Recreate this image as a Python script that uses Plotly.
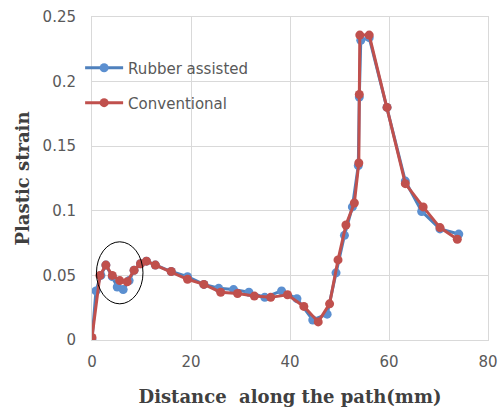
import plotly.graph_objects as go

# Rubber assisted series
rubber_x = [0, 0.8, 1.8, 2.8, 4.1, 5.1, 6.3, 7.5, 8.5, 9.8, 11.0, 12.8, 16.0, 19.3, 22.6,
            25.6, 28.6, 31.7, 34.9, 38.3, 41.4, 44.6, 47.5, 49.3, 51.0, 52.6, 53.8, 54.0,
            54.3, 56.0, 59.6, 63.3, 66.6, 70.3, 74.1]
rubber_y = [0.0, 0.038, 0.050, 0.058, 0.049, 0.041, 0.039, 0.046, 0.054, 0.059, 0.061, 0.058,
            0.053, 0.049, 0.043, 0.040, 0.039, 0.037, 0.033, 0.038, 0.032, 0.0155, 0.020,
            0.052, 0.081, 0.103, 0.135, 0.188, 0.232, 0.234, 0.180, 0.123, 0.0995, 0.086, 0.082]

# Conventional series
conv_x = [0, 1.6, 2.8, 4.1, 5.6, 7.1, 8.5, 9.8, 11.0, 12.8, 16.0, 19.3, 22.6, 26.0, 29.4,
          32.8, 36.1, 39.5, 42.8, 45.7, 48.0, 49.7, 51.3, 53.0, 53.9, 54.0, 54.1, 56.0,
          59.6, 63.3, 66.9, 70.3, 73.8]
conv_y = [0.002, 0.050, 0.058, 0.050, 0.046, 0.045, 0.054, 0.059, 0.061, 0.058, 0.053, 0.047,
          0.043, 0.037, 0.036, 0.034, 0.033, 0.035, 0.026, 0.014, 0.028, 0.062, 0.089, 0.106,
          0.137, 0.190, 0.236, 0.236, 0.180, 0.121, 0.103, 0.087, 0.078]

x_ticks = [0, 20, 40, 60, 80]
y_ticks = [0, 0.05, 0.1, 0.15, 0.2, 0.25]
y_tick_text = ["0", "0.05", "0.1", "0.15", "0.2", "0.25"]

BLUE = "#4f81bd"
RED = "#c0504d"

fig = go.Figure()
fig.add_trace(go.Scatter(x=rubber_x, y=rubber_y, mode="lines+markers", name="Rubber assisted",
                         line=dict(color=BLUE, width=3), marker=dict(color="#5b8fd0", size=9),
                         legend="legend", showlegend=True))
fig.add_trace(go.Scatter(x=conv_x, y=conv_y, mode="lines+markers", name="Conventional",
                         line=dict(color=RED, width=3), marker=dict(color=RED, size=9),
                         legend="legend2", showlegend=True))

fig.add_shape(type="circle", xref="x", yref="y", x0=0.9, x1=10.3, y0=0.028, y1=0.076,
              line=dict(color="black", width=1))

tickfont = dict(family="DejaVu Sans", size=15, color="#595959")
titlefont = dict(family="DejaVu Serif", size=18, color="#404040")
legfont = dict(family="DejaVu Sans", size=15, color="#595959")

fig.update_layout(
    width=498, height=409,
    margin=dict(l=92, r=10, t=17, b=69),
    paper_bgcolor="white", plot_bgcolor="white",
    showlegend=True,
    xaxis=dict(range=[0, 80], tickvals=x_ticks, showgrid=True, gridcolor="#d9d9d9",
               gridwidth=1, zeroline=False, showline=True, linecolor="#d9d9d9", mirror=True,
               tickfont=tickfont, ticks="outside", ticklen=8, tickcolor="rgba(0,0,0,0)",
               ticklabeloverflow="allow", automargin=False,
               title=dict(text="<b>Distance  along the path(mm)</b>", font=titlefont, standoff=20)),
    yaxis=dict(range=[0, 0.25], tickvals=y_ticks, ticktext=y_tick_text, showgrid=True,
               gridcolor="#d9d9d9", gridwidth=1, zeroline=False, showline=True,
               linecolor="#d9d9d9", mirror=True, tickfont=tickfont, ticks="outside",
               ticklen=12, tickcolor="rgba(0,0,0,0)", automargin=False,
               title=dict(text="<b>Plastic strain</b>", font=titlefont, standoff=8)),
    legend=dict(x=-0.03, y=0.842, xanchor="left", yanchor="middle", bgcolor="rgba(0,0,0,0)",
                font=legfont, itemwidth=38),
    legend2=dict(x=-0.03, y=0.734, xanchor="left", yanchor="middle", bgcolor="rgba(0,0,0,0)",
                 font=legfont, itemwidth=38),
)

fig.write_html("out.html")
